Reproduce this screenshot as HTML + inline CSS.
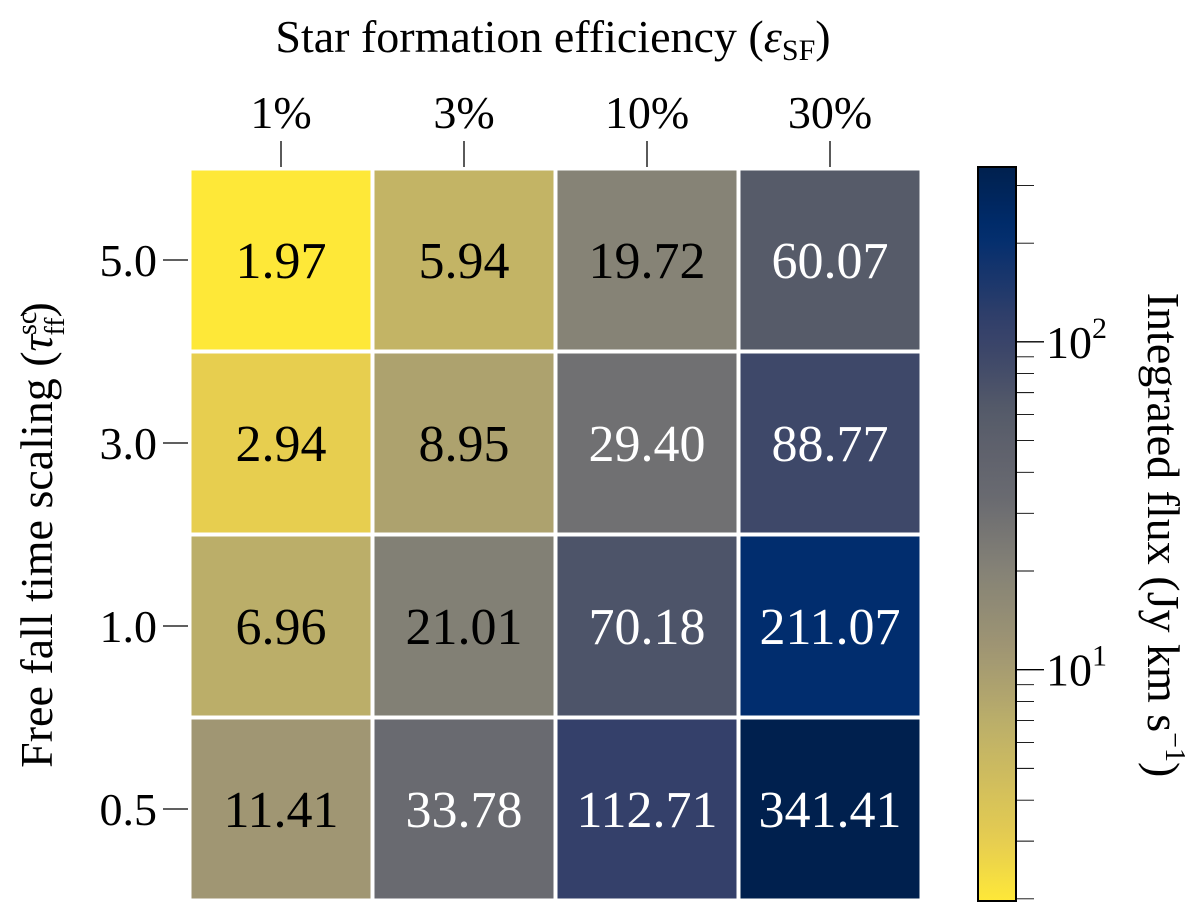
<!DOCTYPE html>
<html><head><meta charset="utf-8"><style>
html,body{margin:0;padding:0;background:#fff}
svg{display:block;font-family:"Liberation Serif",serif}
</style></head><body>
<svg id="chart" width="1200" height="913" viewBox="0 0 1200 913">
<text x="553" y="52" font-size="46" text-anchor="middle">Star formation efficiency (<tspan font-style="italic">ε</tspan><tspan font-size="30" dy="8">SF</tspan><tspan dy="-8">)</tspan></text>
<text transform="translate(52,535) rotate(-90)" font-size="46" text-anchor="middle">Free fall time scaling (<tspan font-style="italic">τ</tspan><tspan font-size="28" dy="-16">sc</tspan><tspan font-size="28" dx="-24" dy="28">ff</tspan><tspan dy="-12">)</tspan></text>
<text transform="translate(1148,535) rotate(90)" font-size="46" text-anchor="middle">Integrated flux (Jy km s<tspan font-size="28" dy="-18">−1</tspan><tspan dy="18">)</tspan></text>
<g id="cells"></g>
<g id="cbar"></g>
</svg>
<script>
const cols = ["1%","3%","10%","30%"];
const rows = ["5.0","3.0","1.0","0.5"];
const row0 = [1.97,5.94,19.72,60.07];
const row1 = [2.94,8.95,29.40,88.77];
const row2 = [6.96,21.01,70.18,211.07];
const row3 = [11.41,33.78,112.71,341.41];
const values = [row0,row1,row2,row3];
const vmin = 1.97, vmax = 341.41;
const NS="http://www.w3.org/2000/svg";
const svg=document.getElementById('chart');
const gC=document.getElementById('cells');
const gB=document.getElementById('cbar');
const X0=189.5, Y0=168.5, CW=183, CH=183;
const xPos=i=>X0+i*CW, yPos=j=>Y0+j*CH;
const stops=[[0,[0,32,78]],[0.09,[0,45,110]],[0.215,[52,64,106]],[0.26,[62,72,105]],[0.33,[85,90,105]],[0.45,[105,106,112]],[0.55,[133,130,118]],[0.66,[160,150,115]],[0.76,[188,175,105]],[0.92,[230,205,80]],[1,[254,232,56]]];
function cmap(t){
  for(let k=1;k<stops.length;k++){if(t<=stops[k][0]){const a=stops[k-1],b=stops[k];const f=(t-a[0])/(b[0]-a[0]);return 'rgb('+a[1].map((c,i)=>Math.round(c+(b[1][i]-c)*f)).join(',')+')';}}
  return 'rgb(254,232,56)';
}
const norm=v=>(Math.log10(v)-Math.log10(vmin))/(Math.log10(vmax)-Math.log10(vmin));
function mk(tag,attrs,parent){const e=document.createElementNS(NS,tag);for(const k in attrs)e.setAttribute(k,attrs[k]);parent.appendChild(e);return e;}
values.forEach((r,j)=>r.forEach((v,i)=>{
  const n=norm(v);
  const rc=mk('rect',{x:xPos(i),y:yPos(j),width:CW,height:CH,fill:cmap(1-n),stroke:'#fff','stroke-width':4},gC);
  
  
  const t=mk('text',{x:xPos(i)+CW/2,y:yPos(j)+CH/2+18,'font-size':52,'text-anchor':'middle',fill:n>0.49?'#fff':'#000'},gC);
  t.textContent=v.toFixed(2);
  
  
}));
cols.forEach((c,i)=>{
  const cx=xPos(i)+CW/2;
  const l=mk('line',{x1:cx,x2:cx,y1:141,y2:167,stroke:'#000','stroke-width':1.3},gC);
  
  
  const t=mk('text',{x:cx,y:128,'font-size':46,'text-anchor':'middle'},gC);
  t.textContent=c;
  
  
});
rows.forEach((r,j)=>{
  const cy=yPos(j)+CH/2;
  const l=mk('line',{x1:163,x2:188,y1:cy,y2:cy,stroke:'#000','stroke-width':1.3},gC);
  
  
  const t=mk('text',{x:157,y:cy+16,'font-size':46,'text-anchor':'end'},gC);
  t.textContent=r;
  
  
});
const CBX=978, CBT=167, CBB=901, CBW=38;
const cbY=v=>CBB-norm(v)*(CBB-CBT);
const defs=mk('defs',{},svg);
const grad=mk('linearGradient',{id:'cg',x1:0,y1:1,x2:0,y2:0},defs);
for(let k=0;k<=40;k++){mk('stop',{offset:k/40,'stop-color':cmap(1-k/40)},grad);}
const bar=mk('rect',{x:CBX,y:CBT,width:CBW,height:CBB-CBT,fill:'url(#cg)',stroke:'#000','stroke-width':2},gB);


for(let d=0;d<=2;d++){for(let m=1;m<=9;m++){const v=m*Math.pow(10,d);if(v<vmin||v>vmax)continue;const y=cbY(v);const major=m===1;
  const l=mk('line',{x1:CBX+CBW,x2:CBX+CBW+(major?28:18),y1:y,y2:y,stroke:'#000','stroke-width':major?1.3:0.9},gB);
  
  
  if(major){const t=mk('text',{x:1046,y:y+16,'font-size':46},gB);t.innerHTML='10<tspan font-size="30" dy="-20">'+d+'</tspan>';
    
    }
}}
</script>
</body></html>
